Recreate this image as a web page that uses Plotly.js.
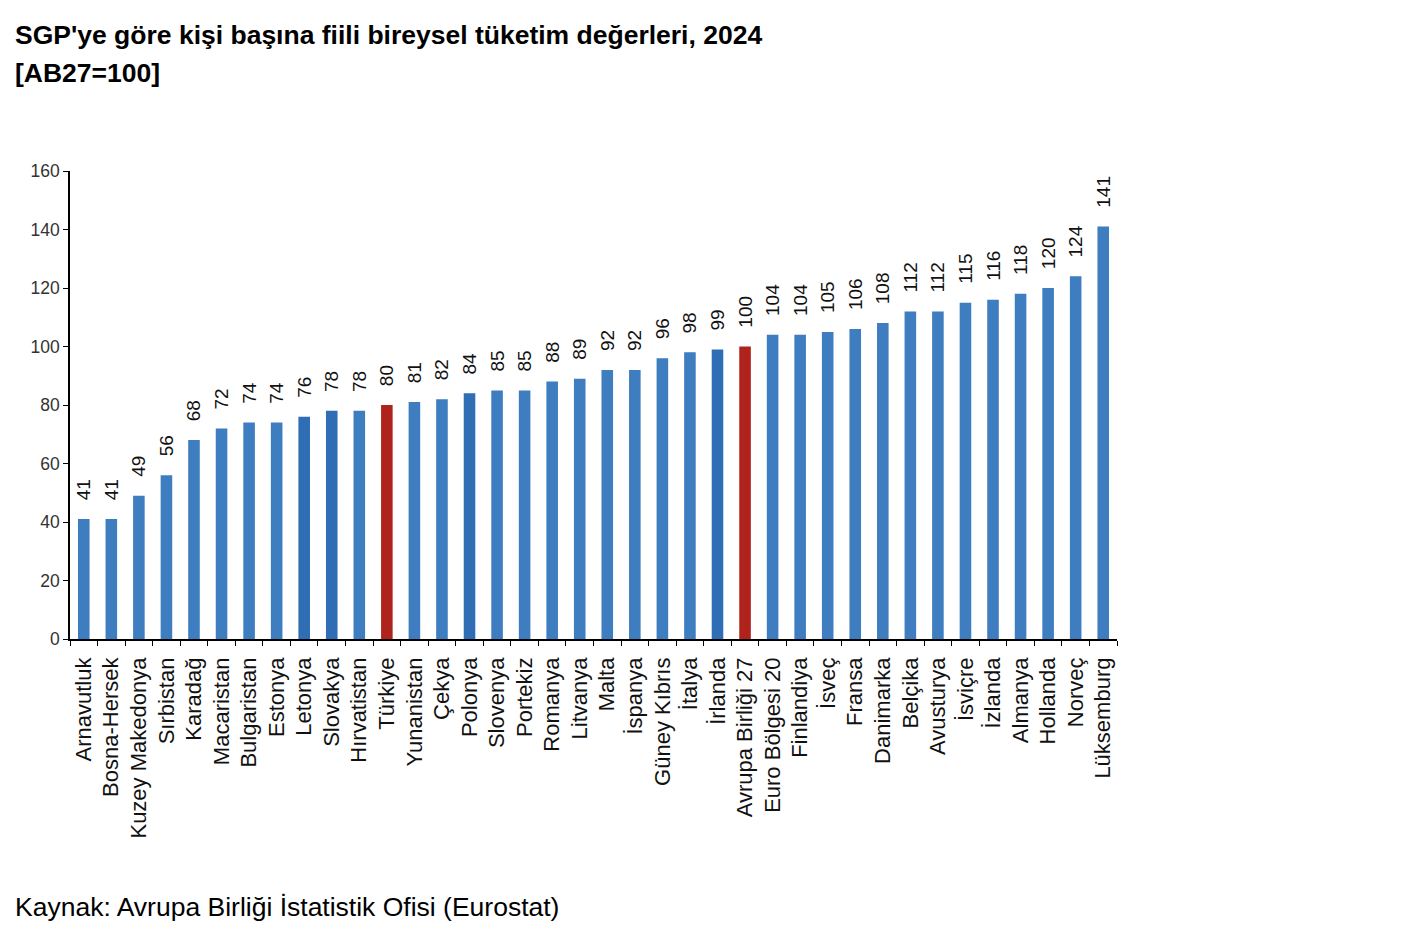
<!DOCTYPE html>
<html>
<head>
<meta charset="utf-8">
<script src="https://cdn.plot.ly/plotly-3.0.1.min.js"></script>
<style>
  body { margin: 0; background: #fff; }
  #chart { width: 1412px; height: 936px; }
</style>
</head>
<body>
<div id="chart"></div>
<script>
const countries = [
    'Arnavutluk', 'Bosna-Hersek', 'Kuzey Makedonya', 'Sırbistan', 'Karadağ',
    'Macaristan', 'Bulgaristan', 'Estonya', 'Letonya', 'Slovakya',
    'Hırvatistan', 'Türkiye', 'Yunanistan', 'Çekya', 'Polonya',
    'Slovenya', 'Portekiz', 'Romanya', 'Litvanya', 'Malta',
    'İspanya', 'Güney Kıbrıs', 'İtalya', 'İrlanda', 'Avrupa Birliği 27',
    'Euro Bölgesi 20', 'Finlandiya', 'İsveç', 'Fransa', 'Danimarka',
    'Belçika', 'Avusturya', 'İsviçre', 'İzlanda', 'Almanya',
    'Hollanda', 'Norveç', 'Lüksemburg'
];

const values = [
    41, 41, 49, 56, 68,
    72, 74, 74, 76, 78,
    78, 80, 81, 82, 84,
    85, 85, 88, 89, 92,
    92, 96, 98, 99, 100,
    104, 104, 105, 106, 108,
    112, 112, 115, 116, 118,
    120, 124, 141
];

// highlighted bars
const highlight = ['Türkiye', 'Avrupa Birliği 27'];
const darker = ['Letonya', 'Slovakya', 'Polonya', 'İrlanda'];

const colors = countries.map(c => {
    if (highlight.includes(c)) return '#b0231c';
    if (darker.includes(c)) return '#2f6db5';
    return '#3d7dc0';
});

// leading nbsp's push the rotated labels a bit further off the bar tops
const pad = '\u00a0\u00a0\u00a0';

const trace = {
    x: countries,
    y: values,
    type: 'bar',
    marker: { color: colors },
    text: values.map(v => pad + v),
    textposition: 'outside',
    textangle: -90,
    constraintext: 'none',
    cliponaxis: false,
    textfont: { family: 'Liberation Sans, Arial, sans-serif', size: 19, color: '#111' },
    hoverinfo: 'x+y'
};

const layout = {
    width: 1412,
    height: 936,
    margin: { l: 70, r: 295, t: 171, b: 297 },
    paper_bgcolor: '#fff',
    plot_bgcolor: '#fff',
    showlegend: false,
    bargap: 0.58,
    font: { family: 'Liberation Sans, Arial, sans-serif', color: '#222' },
    xaxis: {
        type: 'category',
        tickangle: -90,
        tickfont: { size: 22, color: '#111' },
        ticks: 'outside',
        tickson: 'boundaries',
        ticklen: 5,
        tickcolor: '#000',
        ticklabelstandoff: 8,
        showline: true,
        linecolor: '#000',
        linewidth: 1.5,
        showgrid: false,
        zeroline: false
    },
    yaxis: {
        range: [0, 160],
        dtick: 20,
        tickfont: { size: 17.5, color: '#333' },
        ticks: 'outside',
        ticklen: 5,
        tickcolor: '#000',
        showline: true,
        linecolor: '#000',
        linewidth: 1.5,
        showgrid: false,
        zeroline: false
    },
    annotations: [
        {
            text: "<b>SGP'ye göre kişi başına fiili bireysel tüketim değerleri, 2024</b>",
            xref: 'paper', yref: 'paper',
            x: -0.054, y: 1.291, xanchor: 'left', yanchor: 'middle',
            showarrow: false,
            font: { size: 26.5, color: '#000' }
        },
        {
            text: '<b>[AB27=100]</b>',
            xref: 'paper', yref: 'paper',
            x: -0.054, y: 1.209, xanchor: 'left', yanchor: 'middle',
            showarrow: false,
            font: { size: 26.5, color: '#000' }
        },
        {
            text: 'Kaynak: Avrupa Birliği İstatistik Ofisi (Eurostat)',
            xref: 'paper', yref: 'paper',
            x: -0.054, y: -0.573, xanchor: 'left', yanchor: 'middle',
            showarrow: false,
            font: { size: 26.5, color: '#000' }
        }
    ]
};

Plotly.newPlot('chart', [trace], layout, { displayModeBar: false });
</script>
</body>
</html>
